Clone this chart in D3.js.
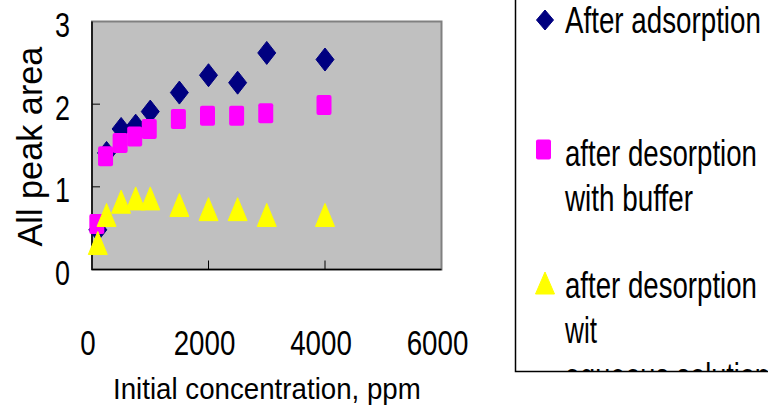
<!DOCTYPE html>
<html>
<head>
<meta charset="utf-8">
<script src="https://cdn.jsdelivr.net/npm/d3@7"></script>
<style>
  html, body { margin: 0; padding: 0; background: #fff; }
  svg { display: block; }
  text { font-family: "Liberation Sans", Arial, sans-serif; fill: #000; }
</style>
</head>
<body>
<svg id="chart" width="768" height="407"></svg>
<script>
// ---- data ----
const concentration = [100, 250, 500, 750, 1000, 1500, 2000, 2500, 3000, 4000];
const afterAdsorption = [0.48, 1.41, 1.70, 1.74, 1.91, 2.14, 2.35, 2.26, 2.62, 2.54];
const afterBuffer = [0.55, 1.37, 1.53, 1.61, 1.70, 1.82, 1.86, 1.86, 1.89, 1.99];
const afterAqueous = [0.32, 0.66, 0.82, 0.86, 0.86, 0.78, 0.73, 0.73, 0.66, 0.66];
const xTicks = [0, 2000, 4000, 6000];
const yTicks = [0, 1, 2, 3];
const seriesNames = ["After adsorption", "after desorption with buffer", "after desorption wit aqueous solution"];

// ---- layout ----
const svg = d3.select("#chart");
const plot = { left: 92, right: 441.5, top: 21.5, bottom: 269.5 };
const x = d3.scaleLinear().domain([0, 6000]).range([plot.left, plot.right]);
const y = d3.scaleLinear().domain([0, 3]).range([plot.bottom, plot.top]);

// helper: place text squeezed horizontally to a target width
function fitText(sel, tx, ty, target, rotate) {
  const node = sel.node();
  const natural = node.getComputedTextLength();
  const s = target / natural;
  sel.attr("transform", `translate(${tx},${ty})${rotate ? ` rotate(${rotate})` : ""} scale(${s},1)`);
}

// plot background
svg.append("rect")
  .attr("x", plot.left).attr("y", plot.top)
  .attr("width", plot.right - plot.left).attr("height", plot.bottom - plot.top)
  .attr("fill", "#C0C0C0").attr("stroke", "#808080").attr("stroke-width", 2);

// axes lines
const axisG = svg.append("g");
axisG.append("line").attr("x1", plot.left).attr("x2", plot.left)
  .attr("y1", plot.top).attr("y2", plot.bottom + 0.5).attr("stroke", "#000").attr("stroke-width", 1.5);
axisG.append("line").attr("x1", plot.left).attr("x2", plot.right)
  .attr("y1", plot.bottom).attr("y2", plot.bottom).attr("stroke", "#000").attr("stroke-width", 1.5);

// inside ticks
axisG.selectAll(".yt").data(yTicks.filter(d => d > 0 && d < 3)).enter().append("line")
  .attr("x1", plot.left).attr("x2", plot.left + 8)
  .attr("y1", d => y(d)).attr("y2", d => y(d)).attr("stroke", "#000").attr("stroke-width", 1);
axisG.selectAll(".xt").data(xTicks.filter(d => d > 0 && d < 6000)).enter().append("line")
  .attr("x1", d => x(d)).attr("x2", d => x(d))
  .attr("y1", plot.bottom).attr("y2", plot.bottom - 9).attr("stroke", "#000").attr("stroke-width", 1);

// tick labels
svg.selectAll(".ylab").data(yTicks).enter().append("text")
  .attr("transform", d => `translate(70,${y(d) + 15.5}) scale(0.77,1)`)
  .attr("text-anchor", "end").attr("font-size", 35).text(d => d);
svg.selectAll(".xlab").data(xTicks).enter().append("text")
  .attr("transform", d => `translate(${x(d) - 4},355) scale(0.77,1)`)
  .attr("text-anchor", "middle").attr("font-size", 36).text(d => d);

// axis titles
fitText(svg.append("text").attr("font-size", 30).text("Initial concentration, ppm"), 113, 398.5, 308);
fitText(svg.append("text").attr("font-size", 36).text("All peak area"), 41.5, 246.5, 200, -90);

// marker shapes
const diamondPath = "M0,-11.5L9,0L0,11.5L-9,0Z";
const trianglePath = "M0,-11.5L9.5,11.5L-9.5,11.5Z";

const pts = (vals) => concentration.map((c, i) => ({ c, v: vals[i] }));

svg.append("g").selectAll("path").data(pts(afterAdsorption)).enter().append("path")
  .attr("d", diamondPath)
  .attr("transform", d => `translate(${x(d.c)},${y(d.v)})`)
  .attr("fill", "#000080").attr("stroke", "#000080").attr("stroke-width", 1).attr("stroke-linejoin", "round");

svg.append("g").selectAll("rect").data(pts(afterBuffer)).enter().append("rect")
  .attr("x", d => x(d.c) - 8.5).attr("y", d => y(d.v) - 10)
  .attr("width", 15).attr("height", 20).attr("rx", 2)
  .attr("fill", "#FF00FF");

svg.append("g").selectAll("path").data(pts(afterAqueous)).enter().append("path")
  .attr("d", trianglePath)
  .attr("transform", d => `translate(${x(d.c)},${y(d.v)})`)
  .attr("fill", "#FFFF00").attr("stroke", "#FFFF00").attr("stroke-width", 1).attr("stroke-linejoin", "round");

// legend
const legendBox = { x: 515.5, y: -10, w: 270, bottom: 371.5 };
svg.append("defs").append("clipPath").attr("id", "legclip").append("rect")
  .attr("x", legendBox.x).attr("y", legendBox.y).attr("width", legendBox.w)
  .attr("height", legendBox.bottom - legendBox.y);
svg.append("rect").attr("x", legendBox.x).attr("y", legendBox.y)
  .attr("width", legendBox.w).attr("height", legendBox.bottom - legendBox.y)
  .attr("fill", "#fff").attr("stroke", "#000").attr("stroke-width", 1.5);

const leg = svg.append("g").attr("clip-path", "url(#legclip)");
leg.append("path").attr("d", "M0,-10L8.5,0L0,10L-8.5,0Z").attr("transform", "translate(545,20)")
  .attr("fill", "#000080").attr("stroke", "#000080").attr("stroke-linejoin", "round");
leg.append("rect").attr("x", 536).attr("y", 139.5).attr("width", 15).attr("height", 20).attr("rx", 2)
  .attr("fill", "#FF00FF");
leg.append("path").attr("d", "M0,-11L9.5,11L-9.5,11Z").attr("transform", "translate(545,283)")
  .attr("fill", "#FFFF00").attr("stroke", "#FFFF00").attr("stroke-linejoin", "round");

const legendLines = [
  { t: seriesNames[0], y: 33.3, w: 196 },
  { t: "after desorption", y: 166, w: 192 },
  { t: "with buffer", y: 210.5, w: 128 },
  { t: "after desorption", y: 298, w: 192 },
  { t: "wit", y: 343, w: 32 },
  { t: "aqueous solution", y: 388.5, w: 205 }
];
legendLines.forEach(d => {
  fitText(leg.append("text").attr("font-size", 37).text(d.t), 565, d.y, d.w);
});
</script>
</body>
</html>
